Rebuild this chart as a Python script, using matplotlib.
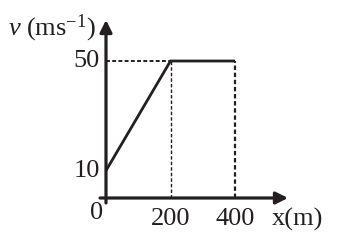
import matplotlib
matplotlib.use("Agg")
import matplotlib.pyplot as plt

# Data
x_vals = [0, 200, 400]
v_vals = [10, 50, 50]
x_ticks = [200, 400]
x_tick_labels = ["200", "400"]
y_ticks = [10, 50]
y_tick_labels = ["10", "50"]

C = "#231f20"
plt.rcParams['mathtext.fontset'] = 'custom'
plt.rcParams['mathtext.rm'] = 'Liberation Serif'
plt.rcParams['mathtext.it'] = 'Liberation Serif:italic'
FONT = dict(family='Liberation Serif', size=19, color=C)

fig = plt.figure(figsize=(3.42, 2.42), dpi=100)
ax = fig.add_axes([0, 0, 1, 1])
sx = 129 / 400.0
sy = 2.74
ax.set_xlim(-106 / sx, (342 - 106) / sx)
ax.set_ylim((198 - 242) / sy, 198 / sy)
ax.axis('off')

# axes with arrows
ax.annotate('', xy=(0, (198 - 20) / sy), xytext=(0, -5 / sy),
            arrowprops=dict(arrowstyle='-|>', lw=2.3, color=C, mutation_scale=18, shrinkA=0, shrinkB=0))
ax.annotate('', xy=((288 - 106) / sx, 0), xytext=(-6 / sx, 0),
            arrowprops=dict(arrowstyle='-|>', lw=2.3, color=C, mutation_scale=18, shrinkA=0, shrinkB=0))

# data line
ax.plot(x_vals, v_vals, color=C, lw=2.0, solid_capstyle='butt')

# guide lines
ax.plot([0, x_vals[1]], [v_vals[1], v_vals[1]], color=C, lw=1.4, ls=(0, (2, 1.2)))
ax.plot([x_vals[1], x_vals[1]], [0, v_vals[1]], color=C, lw=1.0, ls=(0, (2.5, 1.5)))
ax.plot([x_vals[2], x_vals[2]], [0, v_vals[2]], color=C, lw=1.6, ls=(0, (2, 1.2)))

# tick labels
for xt, lab in zip(x_ticks, x_tick_labels):
    ax.text(xt, -3.6, lab, ha='center', va='top', **FONT)
for yt, lab in zip(y_ticks, y_tick_labels):
    ax.text(-6 / sx, yt, lab, ha='right', va='center', **FONT)
ax.text(-9 / sx, -1.4, "0", ha='center', va='top', **FONT)
ax.text((272 - 106) / sx, -3.6, "x(m)", ha='left', va='top', **FONT)
ax.text((96 - 106) / sx, (198 - 28) / sy, r"$v\ \mathrm{(ms^{-1})}$", ha='right', va='center',
        fontsize=19, color=C)

fig.savefig("out.png", dpi=100)
